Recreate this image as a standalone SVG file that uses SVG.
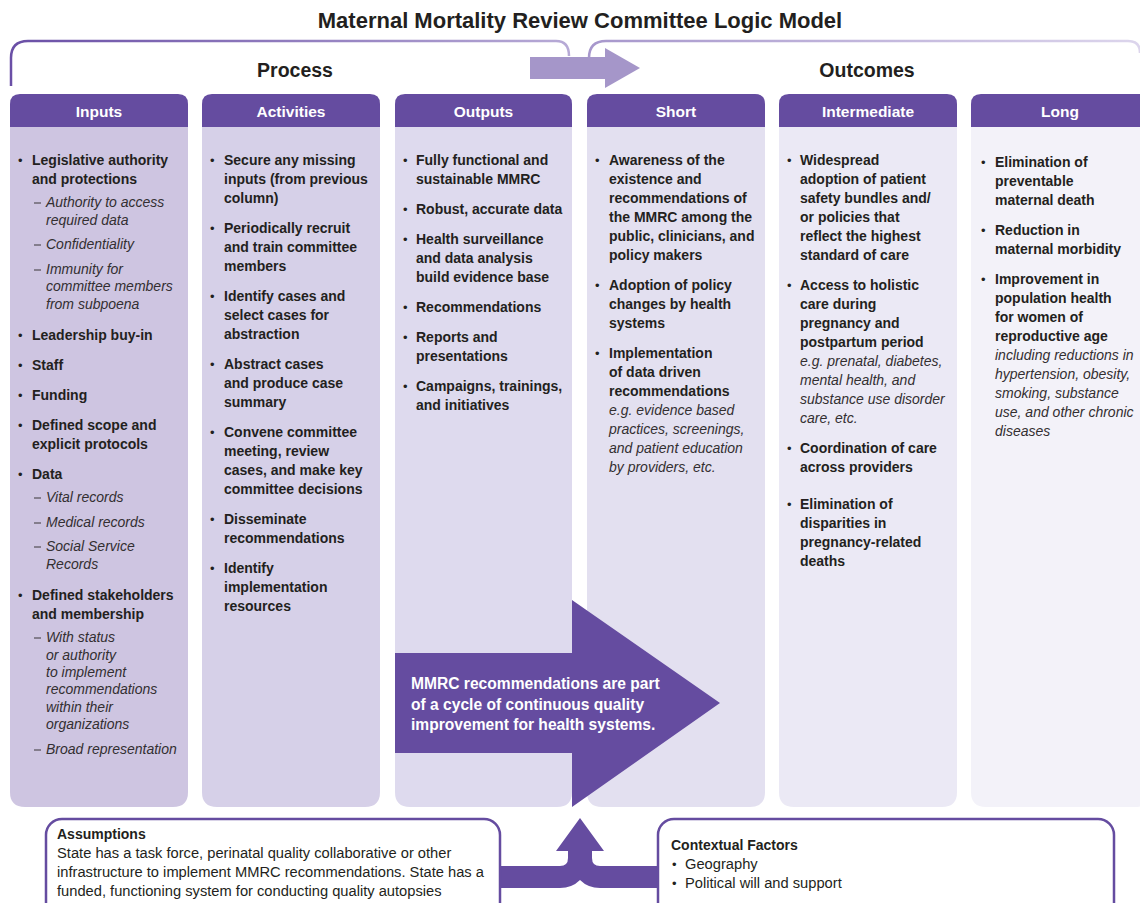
<svg xmlns="http://www.w3.org/2000/svg" width="1140" height="903" viewBox="0 0 1140 903">
<defs>
<linearGradient id="gProc" x1="0" y1="0" x2="1" y2="0"><stop offset="0" stop-color="#6a4fa6"/><stop offset="1" stop-color="#b7aad6"/></linearGradient>
<linearGradient id="gOut" x1="0" y1="0" x2="1" y2="0"><stop offset="0" stop-color="#a797cc"/><stop offset="1" stop-color="#dcd5ec"/></linearGradient>
<style>
.title{font-family:"Liberation Sans",Arial,sans-serif;font-weight:bold;font-size:22px;fill:#231f20}
.sec{font-family:"Liberation Sans",Arial,sans-serif;font-weight:bold;font-size:19.5px;fill:#231f20}
.tab{fill:#654ca0}
.tabt{font-family:"Liberation Sans",Arial,sans-serif;font-weight:bold;font-size:15.5px;fill:#ffffff}
.b{font-family:"Liberation Sans",Arial,sans-serif;font-weight:bold;font-size:14px;fill:#231f20}
.i{font-family:"Liberation Sans",Arial,sans-serif;font-style:italic;font-size:14px;fill:#332f31}
.dot{font-family:"Liberation Sans",Arial,sans-serif;font-size:13px;fill:#231f20}
.dash{stroke:#3a3638;stroke-width:1}
.arrowt{font-family:"Liberation Sans",Arial,sans-serif;font-weight:bold;font-size:15.6px;fill:#ffffff}
.box{fill:#ffffff;stroke:#654ca0;stroke-width:2.5}
.bh{font-family:"Liberation Sans",Arial,sans-serif;font-weight:bold;font-size:14px;fill:#231f20}
.bt{font-family:"Liberation Sans",Arial,sans-serif;font-size:14.7px;fill:#231f20}
</style>
</defs>
<rect width="1140" height="903" fill="#ffffff"/>

<text class="title" x="580" y="28" text-anchor="middle">Maternal Mortality Review Committee Logic Model</text>

<g id="process-bracket">
<path d="M11,86 V58 Q11,41 28,41 H556 Q569,41 569,56" fill="none" stroke="url(#gProc)" stroke-width="2.5"/>
<text class="sec" x="295" y="77" text-anchor="middle">Process</text>
</g>
<g id="outcomes-bracket">
<path d="M589,58 Q589,41 606,41 H1128 Q1140,41 1140,53" fill="none" stroke="url(#gOut)" stroke-width="2.5"/>
<text class="sec" x="867" y="77" text-anchor="middle">Outcomes</text>
</g>
<g id="flow-arrow">
<path d="M530,57 H605 V48 L640,68 L605,88 V79 H530 Z" fill="#a596c9"/>
</g>

<g id="inputs">
<path d="M10,127 H188 V792 Q188,807 173,807 H25 Q10,807 10,792 Z" fill="#cec5e1"/>
<path class="tab" d="M10,127 V104 Q10,94 20,94 H178 Q188,94 188,104 V127 Z"/>
<text class="tabt" x="99" y="117" text-anchor="middle">Inputs</text>
<text class="dot" x="18" y="165">•</text>
<text class="b" x="32" y="165">Legislative authority</text>
<text class="b" x="32" y="184">and protections</text>
<line class="dash" x1="34" y1="203" x2="41" y2="203"/>
<text class="i" x="46" y="207">Authority to access</text>
<text class="i" x="46" y="225">required data</text>
<line class="dash" x1="34" y1="245" x2="41" y2="245"/>
<text class="i" x="46" y="249">Confidentiality</text>
<line class="dash" x1="34" y1="270" x2="41" y2="270"/>
<text class="i" x="46" y="274">Immunity for</text>
<text class="i" x="46" y="291">committee members</text>
<text class="i" x="46" y="309">from subpoena</text>
<text class="dot" x="18" y="340">•</text>
<text class="b" x="32" y="340">Leadership buy-in</text>
<text class="dot" x="18" y="370">•</text>
<text class="b" x="32" y="370">Staff</text>
<text class="dot" x="18" y="400">•</text>
<text class="b" x="32" y="400">Funding</text>
<text class="dot" x="18" y="430">•</text>
<text class="b" x="32" y="430">Defined scope and</text>
<text class="b" x="32" y="449">explicit protocols</text>
<text class="dot" x="18" y="479">•</text>
<text class="b" x="32" y="479">Data</text>
<line class="dash" x1="34" y1="498" x2="41" y2="498"/>
<text class="i" x="46" y="502">Vital records</text>
<line class="dash" x1="34" y1="523" x2="41" y2="523"/>
<text class="i" x="46" y="527">Medical records</text>
<line class="dash" x1="34" y1="547" x2="41" y2="547"/>
<text class="i" x="46" y="551">Social Service</text>
<text class="i" x="46" y="569">Records</text>
<text class="dot" x="18" y="600">•</text>
<text class="b" x="32" y="600">Defined stakeholders</text>
<text class="b" x="32" y="619">and membership</text>
<line class="dash" x1="34" y1="638" x2="41" y2="638"/>
<text class="i" x="46" y="642">With status</text>
<text class="i" x="46" y="660">or authority</text>
<text class="i" x="46" y="677">to implement</text>
<text class="i" x="46" y="694">recommendations</text>
<text class="i" x="46" y="712">within their</text>
<text class="i" x="46" y="729">organizations</text>
<line class="dash" x1="34" y1="750" x2="41" y2="750"/>
<text class="i" x="46" y="754">Broad representation</text>
</g>

<g id="activities">
<path d="M202,127 H380 V792 Q380,807 365,807 H217 Q202,807 202,792 Z" fill="#d6d0e8"/>
<path class="tab" d="M202,127 V104 Q202,94 212,94 H370 Q380,94 380,104 V127 Z"/>
<text class="tabt" x="291" y="117" text-anchor="middle">Activities</text>
<text class="dot" x="210" y="165">•</text>
<text class="b" x="224" y="165">Secure any missing</text>
<text class="b" x="224" y="184">inputs (from previous</text>
<text class="b" x="224" y="203">column)</text>
<text class="dot" x="210" y="233">•</text>
<text class="b" x="224" y="233">Periodically recruit</text>
<text class="b" x="224" y="252">and train committee</text>
<text class="b" x="224" y="271">members</text>
<text class="dot" x="210" y="301">•</text>
<text class="b" x="224" y="301">Identify cases and</text>
<text class="b" x="224" y="320">select cases for</text>
<text class="b" x="224" y="339">abstraction</text>
<text class="dot" x="210" y="369">•</text>
<text class="b" x="224" y="369">Abstract cases</text>
<text class="b" x="224" y="388">and produce case</text>
<text class="b" x="224" y="407">summary</text>
<text class="dot" x="210" y="437">•</text>
<text class="b" x="224" y="437">Convene committee</text>
<text class="b" x="224" y="456">meeting, review</text>
<text class="b" x="224" y="475">cases, and make key</text>
<text class="b" x="224" y="494">committee decisions</text>
<text class="dot" x="210" y="524">•</text>
<text class="b" x="224" y="524">Disseminate</text>
<text class="b" x="224" y="543">recommendations</text>
<text class="dot" x="210" y="573">•</text>
<text class="b" x="224" y="573">Identify</text>
<text class="b" x="224" y="592">implementation</text>
<text class="b" x="224" y="611">resources</text>
</g>

<g id="outputs">
<path d="M395,127 H572 V792 Q572,807 557,807 H410 Q395,807 395,792 Z" fill="#dedaee"/>
<path class="tab" d="M395,127 V104 Q395,94 405,94 H562 Q572,94 572,104 V127 Z"/>
<text class="tabt" x="483.5" y="117" text-anchor="middle">Outputs</text>
<text class="dot" x="403" y="165">•</text>
<text class="b" x="416" y="165">Fully functional and</text>
<text class="b" x="416" y="184">sustainable MMRC</text>
<text class="dot" x="403" y="214">•</text>
<text class="b" x="416" y="214">Robust, accurate data</text>
<text class="dot" x="403" y="244">•</text>
<text class="b" x="416" y="244">Health surveillance</text>
<text class="b" x="416" y="263">and data analysis</text>
<text class="b" x="416" y="282">build evidence base</text>
<text class="dot" x="403" y="312">•</text>
<text class="b" x="416" y="312">Recommendations</text>
<text class="dot" x="403" y="342">•</text>
<text class="b" x="416" y="342">Reports and</text>
<text class="b" x="416" y="361">presentations</text>
<text class="dot" x="403" y="391">•</text>
<text class="b" x="416" y="391">Campaigns, trainings,</text>
<text class="b" x="416" y="410">and initiatives</text>
</g>

<g id="short">
<path d="M587,127 H765 V792 Q765,807 750,807 H602 Q587,807 587,792 Z" fill="#e3e0f0"/>
<path class="tab" d="M587,127 V104 Q587,94 597,94 H755 Q765,94 765,104 V127 Z"/>
<text class="tabt" x="676" y="117" text-anchor="middle">Short</text>
<text class="dot" x="595" y="165">•</text>
<text class="b" x="609" y="165">Awareness of the</text>
<text class="b" x="609" y="184">existence and</text>
<text class="b" x="609" y="203">recommendations of</text>
<text class="b" x="609" y="222">the MMRC among the</text>
<text class="b" x="609" y="241">public, clinicians, and</text>
<text class="b" x="609" y="260">policy makers</text>
<text class="dot" x="595" y="290">•</text>
<text class="b" x="609" y="290">Adoption of policy</text>
<text class="b" x="609" y="309">changes by health</text>
<text class="b" x="609" y="328">systems</text>
<text class="dot" x="595" y="358">•</text>
<text class="b" x="609" y="358">Implementation</text>
<text class="b" x="609" y="377">of data driven</text>
<text class="b" x="609" y="396">recommendations</text>
<text class="i" x="609" y="415">e.g. evidence based</text>
<text class="i" x="609" y="434">practices, screenings,</text>
<text class="i" x="609" y="453">and patient education</text>
<text class="i" x="609" y="472">by providers, etc.</text>
</g>

<g id="intermediate">
<path d="M779,127 H957 V792 Q957,807 942,807 H794 Q779,807 779,792 Z" fill="#ebe9f5"/>
<path class="tab" d="M779,127 V104 Q779,94 789,94 H947 Q957,94 957,104 V127 Z"/>
<text class="tabt" x="868" y="117" text-anchor="middle">Intermediate</text>
<text class="dot" x="787" y="165">•</text>
<text class="b" x="800" y="165">Widespread</text>
<text class="b" x="800" y="184">adoption of patient</text>
<text class="b" x="800" y="203">safety bundles and/</text>
<text class="b" x="800" y="222">or policies that</text>
<text class="b" x="800" y="241">reflect the highest</text>
<text class="b" x="800" y="260">standard of care</text>
<text class="dot" x="787" y="290">•</text>
<text class="b" x="800" y="290">Access to holistic</text>
<text class="b" x="800" y="309">care during</text>
<text class="b" x="800" y="328">pregnancy and</text>
<text class="b" x="800" y="347">postpartum period</text>
<text class="i" x="800" y="366">e.g. prenatal, diabetes,</text>
<text class="i" x="800" y="385">mental health, and</text>
<text class="i" x="800" y="404">substance use disorder</text>
<text class="i" x="800" y="423">care, etc.</text>
<text class="dot" x="787" y="453">•</text>
<text class="b" x="800" y="453">Coordination of care</text>
<text class="b" x="800" y="472">across providers</text>
<text class="dot" x="787" y="509">•</text>
<text class="b" x="800" y="509">Elimination of</text>
<text class="b" x="800" y="528">disparities in</text>
<text class="b" x="800" y="547">pregnancy-related</text>
<text class="b" x="800" y="566">deaths</text>
</g>

<g id="long">
<path d="M971,127 H1150 V792 Q1150,807 1135,807 H986 Q971,807 971,792 Z" fill="#f3f2f9"/>
<path class="tab" d="M971,127 V104 Q971,94 981,94 H1140 Q1150,94 1150,104 V127 Z"/>
<text class="tabt" x="1060" y="117" text-anchor="middle">Long</text>
<text class="dot" x="981" y="167">•</text>
<text class="b" x="995" y="167">Elimination of</text>
<text class="b" x="995" y="186">preventable</text>
<text class="b" x="995" y="205">maternal death</text>
<text class="dot" x="981" y="235">•</text>
<text class="b" x="995" y="235">Reduction in</text>
<text class="b" x="995" y="254">maternal morbidity</text>
<text class="dot" x="981" y="284">•</text>
<text class="b" x="995" y="284">Improvement in</text>
<text class="b" x="995" y="303">population health</text>
<text class="b" x="995" y="322">for women of</text>
<text class="b" x="995" y="341">reproductive age</text>
<text class="i" x="995" y="360">including reductions in</text>
<text class="i" x="995" y="379">hypertension, obesity,</text>
<text class="i" x="995" y="398">smoking, substance</text>
<text class="i" x="995" y="417">use, and other chronic</text>
<text class="i" x="995" y="436">diseases</text>
</g>

<g id="cycle-arrow">
<path d="M395,653 H572 V600 L720,703 L572,807 V753 H395 Z" fill="#654ca0"/>
<text class="arrowt" x="411" y="689">MMRC recommendations are part</text>
<text class="arrowt" x="411" y="710">of a cycle of continuous quality</text>
<text class="arrowt" x="411" y="730">improvement for health systems.</text>
</g>

<g id="connectors">
<path d="M498,866 H560 Q568,866 568,858 V851 H556 L580,818 L604,851 H592 V858 Q592,866 600,866 H660 V888 H600 Q588,888 580,880 Q572,888 560,888 H498 Z" fill="#654ca0"/>
</g>

<g id="assumptions">
<rect class="box" x="46" y="819" width="454" height="100" rx="16"/>
<text class="bh" x="57" y="839">Assumptions</text>
<text class="bt" x="57" y="858">State has a task force, perinatal quality collaborative or other</text>
<text class="bt" x="57" y="877">infrastructure to implement MMRC recommendations. State has a</text>
<text class="bt" x="57" y="896">funded, functioning system for conducting quality autopsies</text>
</g>

<g id="contextual-factors">
<rect class="box" x="658" y="819" width="456" height="100" rx="16"/>
<text class="bh" x="671" y="850">Contextual Factors</text>
<text class="dot" x="672" y="869">•</text>
<text class="bt" x="685" y="869">Geography</text>
<text class="dot" x="672" y="888">•</text>
<text class="bt" x="685" y="888">Political will and support</text>
</g>
</svg>
